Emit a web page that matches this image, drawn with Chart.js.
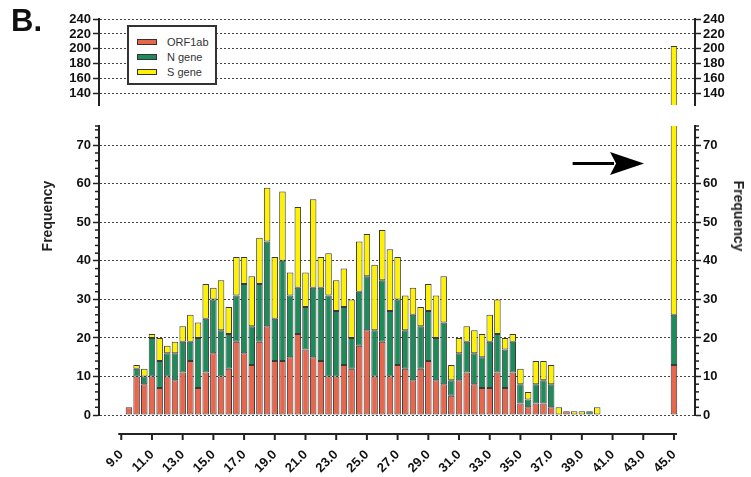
<!DOCTYPE html>
<html>
<head>
<meta charset="utf-8">
<script src="https://cdn.jsdelivr.net/npm/chart.js@4.4.1/dist/chart.umd.min.js"></script>
<style>
  html, body { margin: 0; padding: 0; background: #fff; }
  #wrap { position: relative; width: 751px; height: 477px; overflow: hidden;
          font-family: "Liberation Sans", Arial, sans-serif; }
  #topBox { position: absolute; left: 0; top: 0; width: 751px; height: 115px; }
  #lowBox { position: absolute; left: 0; top: 110px; width: 751px; height: 367px; }
  #panel { position: absolute; left: 11px; top: 3px; font-size: 31px; font-weight: bold; color: #111; }
  .ytitle { position: absolute; top: 216px; font-size: 14px; font-weight: bold; color: #222;
            white-space: nowrap; }
  #legend { position: absolute; left: 127px; top: 25px; width: 86px; height: 56px;
            border: 2px solid #333; background: #fff; z-index: 5; }
  .row { position: absolute; left: 8px; height: 14px; font-size: 11px; color: #333; line-height: 14px; }
  .sw { display: inline-block; width: 18px; height: 4px; border: 1px solid #333;
        vertical-align: middle; margin-right: 10px; position: relative; top: -1px; }
</style>
</head>
<body>
<div id="wrap">
  <div id="topBox"><canvas id="topChart"></canvas></div>
  <div id="lowBox"><canvas id="lowChart"></canvas></div>
  <div id="panel">B.</div>
  <div id="legend"></div>
  <div class="ytitle" style="left:47px; transform: translate(-50%, -50%) rotate(-90deg);">Frequency</div>
  <div class="ytitle" style="left:739px; transform: translate(-50%, -50%) rotate(90deg);">Frequency</div>
</div>
<script>
// bin centres (Ct value)
const binCentres = [9.5, 10.0, 10.5, 11.0, 11.5, 12.0, 12.5, 13.0, 13.5, 14.0,
  14.5, 15.0, 15.5, 16.0, 16.5, 17.0, 17.5, 18.0, 18.5, 19.0,
  19.5, 20.0, 20.5, 21.0, 21.5, 22.0, 22.5, 23.0, 23.5, 24.0,
  24.5, 25.0, 25.5, 26.0, 26.5, 27.0, 27.5, 28.0, 28.5, 29.0,
  29.5, 30.0, 30.5, 31.0, 31.5, 32.0, 32.5, 33.0, 33.5, 34.0,
  34.5, 35.0, 35.5, 36.0, 36.5, 37.0, 37.5, 38.0, 38.5, 39.0,
  39.5, 40.0, 45.0];

const orf1ab = [2, 10, 8, 10, 7, 10, 9, 11, 14, 7,
  11, 16, 10, 12, 19, 16, 13, 19, 23, 14,
  14, 15, 21, 17, 15, 14, 10, 10, 13, 12,
  18, 22, 10, 19, 10, 13, 12, 9, 12, 14,
  9, 8, 5, 9, 11, 8, 7, 7, 11, 7,
  11, 3, 2, 3, 3, 2, 0, 1, 0, 0,
  0, 0, 13];

const nGene = [0, 2, 2, 10, 7, 6, 7, 8, 5, 13,
  14, 14, 12, 9, 12, 18, 10, 15, 22, 11,
  26, 16, 12, 11, 18, 19, 21, 17, 15, 8,
  14, 14, 12, 16, 17, 17, 10, 17, 11, 13,
  11, 16, 4, 7, 8, 8, 8, 12, 10, 10,
  8, 5, 2, 5, 6, 6, 0, 0, 0, 0,
  1, 0, 13];

const sGene = [0, 1, 2, 1, 6, 2, 3, 4, 7, 4,
  9, 3, 13, 7, 10, 7, 13, 12, 14, 16,
  18, 6, 21, 9, 23, 8, 11, 8, 10, 10,
  13, 11, 17, 13, 16, 11, 9, 7, 5, 7,
  11, 12, 4, 4, 4, 6, 6, 7, 9, 3,
  2, 4, 2, 6, 5, 5, 2, 0, 1, 1,
  0, 2, 178];

const seriesNames = ['ORF1ab', 'N gene', 'S gene'];
const seriesColors = ['#E8664B', '#1E8B5B', '#FFF200'];

const xTickValues = [9, 11, 13, 15, 17, 19, 21, 23, 25, 27, 29, 31, 33, 35, 37, 39, 41, 43, 45];
const lowTicks = [0, 10, 20, 30, 40, 50, 60, 70];
const topTicks = [140, 160, 180, 200, 220, 240];

const xMin = 7.55, xMax = 46.37;
const lowMin = 0, lowMax = 75;
const topMin = 125, topMax = 240;

// arrow next to the 45.0 bar (data units)
const arrowFrom = { x: 38.4, y: 65.3 };
const arrowTo = { x: 43.05, y: 65.3 };

Chart.defaults.font.family = '"Liberation Sans", Arial, sans-serif';
Chart.defaults.color = '#111';
Chart.defaults.animation = false;

function makeDatasets() {
  return [orf1ab, nGene, sGene].map((vals, i) => ({
    label: seriesNames[i],
    data: binCentres.map((x, j) => ({ x: x, y: vals[j] ? vals[j] : null })),
    backgroundColor: seriesColors[i],
    borderColor: '#3a3a3a',
    borderWidth: 1,
    borderSkipped: false,
    barPercentage: 0.85,
    categoryPercentage: 1.0
  }));
}

function yAxis(pos, min, max, tickVals, showGrid) {
  return {
    position: pos,
    stacked: pos === 'left',
    min: min,
    max: max,
    afterBuildTicks: s => { s.ticks = tickVals.map(v => ({ value: v })); },
    afterFit: s => { s.width = pos === 'left' ? 99 : 56; },
    grid: { drawOnChartArea: showGrid, color: '#444', tickColor: '#222', tickLength: 6, tickWidth: 1.5 },
    border: { color: '#222', width: 2, dash: [2, 2] },
    ticks: { autoSkip: false, padding: 2, font: { size: 13, weight: 'bold' }, color: '#111' }
  };
}

// legend (html)
const legendEl = document.getElementById('legend');
seriesNames.forEach((name, i) => {
  const r = document.createElement('div');
  r.className = 'row';
  r.style.top = (8 + i * 15) + 'px';
  r.innerHTML = '<span class="sw" style="background:' + seriesColors[i] + '"></span>' + name;
  legendEl.appendChild(r);
});

// small ticks every 2 on the lower y axes
const minorTicks = {
  id: 'minorTicks',
  afterDraw(chart) {
    const ctx = chart.ctx;
    ctx.save();
    ctx.strokeStyle = '#222';
    ctx.lineWidth = 1.5;
    ['y', 'y2'].forEach(id => {
      const s = chart.scales[id];
      const x0 = id === 'y' ? s.right : s.left;
      const dir = id === 'y' ? -1 : 1;
      for (let v = s.min; v <= s.max; v += 1) {
        if (v % 2 !== 0 && v !== s.max) continue;
        if (v % 10 === 0) continue;
        const py = s.getPixelForValue(v);
        ctx.beginPath();
        ctx.moveTo(x0, py);
        ctx.lineTo(x0 + dir * 4, py);
        ctx.stroke();
      }
    });
    ctx.restore();
  }
};

// detached x axis line with ticks
const xAxisLine = {
  id: 'xAxisLine',
  afterDraw(chart) {
    const s = chart.scales.x;
    const ctx = chart.ctx;
    const y = chart.chartArea.bottom + 19;
    ctx.save();
    ctx.strokeStyle = '#222';
    ctx.lineWidth = 2;
    ctx.beginPath();
    ctx.moveTo(s.getPixelForValue(xTickValues[0]) - 3, y);
    ctx.lineTo(s.getPixelForValue(xTickValues[xTickValues.length - 1]) + 3, y);
    ctx.stroke();
    xTickValues.forEach(v => {
      const px = s.getPixelForValue(v);
      ctx.beginPath();
      ctx.moveTo(px, y);
      ctx.lineTo(px, y + 6);
      ctx.stroke();
    });
    ctx.restore();
  }
};

const arrowPlugin = {
  id: 'arrow',
  afterDraw(chart) {
    const sx = chart.scales.x, sy = chart.scales.y;
    const x1 = sx.getPixelForValue(arrowFrom.x), y1 = sy.getPixelForValue(arrowFrom.y);
    const x2 = sx.getPixelForValue(arrowTo.x), y2 = sy.getPixelForValue(arrowTo.y);
    const ctx = chart.ctx;
    ctx.save();
    ctx.strokeStyle = '#000';
    ctx.fillStyle = '#000';
    ctx.lineWidth = 3;
    ctx.beginPath();
    ctx.moveTo(x1, y1);
    ctx.lineTo(x2 - 30, y2);
    ctx.stroke();
    ctx.beginPath();
    ctx.moveTo(x2, y2);
    ctx.lineTo(x2 - 34, y2 - 11.5);
    ctx.lineTo(x2 - 28, y2);
    ctx.lineTo(x2 - 34, y2 + 11.5);
    ctx.closePath();
    ctx.fill();
    ctx.restore();
  }
};

new Chart(document.getElementById('topChart'), {
  type: 'bar',
  data: { datasets: makeDatasets() },
  options: {
    responsive: true,
    maintainAspectRatio: false,
    layout: { padding: { top: 19, bottom: 10, left: 0, right: 0 } },
    plugins: { legend: { display: false }, tooltip: { enabled: false } },
    scales: {
      x: { type: 'linear', stacked: true, offset: false, min: xMin, max: xMax, display: false },
      y: yAxis('left', topMin, topMax, topTicks, true),
      y2: yAxis('right', topMin, topMax, topTicks, false)
    }
  }
});

new Chart(document.getElementById('lowChart'), {
  type: 'bar',
  data: { datasets: makeDatasets() },
  options: {
    responsive: true,
    maintainAspectRatio: false,
    layout: { padding: { top: 16, bottom: 0, left: 0, right: 0 } },
    plugins: { legend: { display: false }, tooltip: { enabled: false } },
    scales: {
      x: {
        type: 'linear', stacked: true, offset: false, min: xMin, max: xMax,
        afterBuildTicks: s => { s.ticks = xTickValues.map(v => ({ value: v })); },
        afterFit: s => { s.height = 62; },
        grid: { display: false },
        border: { display: false },
        ticks: {
          autoSkip: false, minRotation: 45, maxRotation: 45, padding: 24,
          font: { size: 13, weight: 'bold' }, color: '#111',
          callback: v => Number(v).toFixed(1)
        }
      },
      y: yAxis('left', lowMin, lowMax, lowTicks, true),
      y2: yAxis('right', lowMin, lowMax, lowTicks, false)
    }
  },
  plugins: [minorTicks, xAxisLine, arrowPlugin]
});
</script>
</body>
</html>
